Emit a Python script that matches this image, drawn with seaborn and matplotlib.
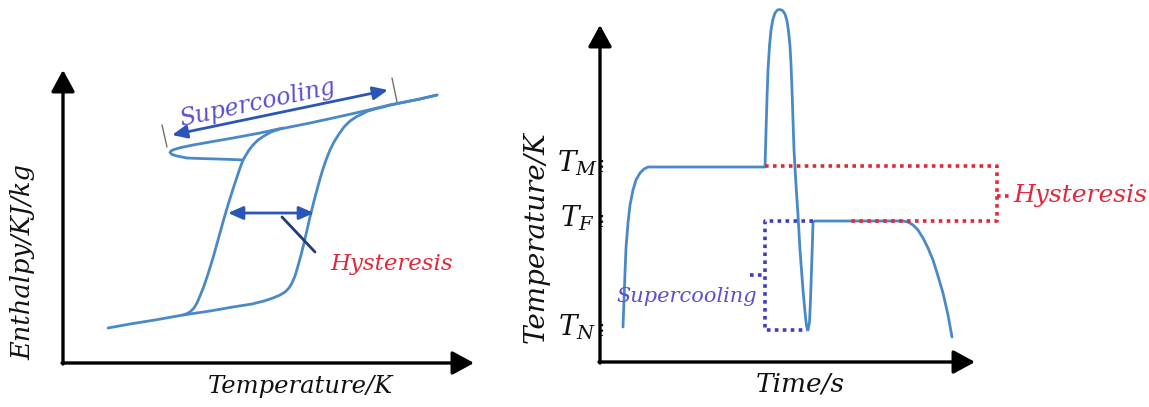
import numpy as np
import pandas as pd
import matplotlib
matplotlib.use("Agg")
import matplotlib.pyplot as plt
import seaborn as sns

# ---------------- data (schematic, pixel units) -------------
# Left panel: enthalpy-temperature hysteresis loop
heat_T = [108, 130, 155, 183, 210, 233, 252, 264, 273, 280, 285, 289, 292, 295, 298,
          301, 304, 307, 310, 314, 318, 322, 326, 330, 334, 339, 344, 350, 356, 362,
          368, 375, 383, 390, 405, 420, 437]
heat_H = [328, 324, 320, 315, 311, 307, 304, 301, 298, 295, 292, 288, 283, 276, 266,
          255, 243, 230, 217, 201, 186, 172, 160, 150, 142, 134, 127, 121, 117, 114,
          111, 109, 107, 105, 102, 99, 95]

cool_T = [437, 420, 390, 360, 333, 310, 290, 280, 271, 264, 258, 253, 249, 246, 243,
          240, 237, 233, 228, 223, 218, 213, 208, 204, 200, 197, 194, 190, 186, 183]
cool_H = [95, 99, 105, 112, 118, 123, 127, 129, 132, 136, 140, 145, 150, 155, 160,
          168, 177, 189, 205, 222, 240, 258, 274, 286, 296, 303, 308, 312, 314, 315]

loop_T = [283, 260, 233, 210, 193, 181, 174, 171, 170, 172, 177, 187, 200, 217, 232, 243]
loop_H = [128, 133, 138, 142, 145, 147.5, 149.5, 151, 152.5, 154.5, 156, 158, 158.5, 159, 159.5, 160]

# Right panel: temperature-time curve
time_s = [623, 624, 625, 626, 628, 630, 633, 636, 640, 644, 648, 700, 765,
          766, 767, 768, 769.5, 771, 773, 775, 777.5, 780, 782.5, 785, 787, 788.5,
          790, 791, 792, 793, 794, 796, 798, 800, 803, 805, 806.5, 808, 809.5, 810.5,
          811.5, 812.5, 813, 815, 860, 903, 908, 913, 918, 923, 928, 933, 938, 943,
          948, 952]
temp_K = [327, 300, 273, 248, 223, 205, 190, 180, 173, 169, 167, 167, 167,
          132, 98, 70, 46, 30, 19, 13, 10, 9.5, 10.5, 14, 21, 31,
          46, 64, 90, 120, 150, 185, 215, 250, 290, 312, 326, 330, 322, 300,
          270, 240, 222, 221, 221, 221, 222, 225, 230, 238, 248, 260, 276, 293,
          315, 337]

tick_labels = [r"$T_M$", r"$T_F$", r"$T_N$"]
tick_levels = [166, 221, 330]

# ---------------- style --------------------------------------------------------------
sns.set_theme(style="white")
plt.rcParams["font.family"] = ["DejaVu Serif"]
plt.rcParams["mathtext.fontset"] = "dejavuserif"

CURVE = "#4a89c8"
ARROW = "#2a56b8"
RED = "#e0283a"
PURPLE = "#5a4fcf"
DOT_PURPLE = "#3c3cc4"

fig = plt.figure(figsize=(11.49, 4.07), dpi=100)
axL = fig.add_axes([0, 0, 480 / 1149, 1])
axR = fig.add_axes([480 / 1149, 0, 669 / 1149, 1])
axL.set_xlim(0, 480); axL.set_ylim(407, 0)
axR.set_xlim(480, 1149); axR.set_ylim(407, 0)
for ax in (axL, axR):
    ax.set_axis_off()

axis_arrow = dict(arrowstyle="-|>,head_length=0.55,head_width=0.3", lw=2.4,
                  color="black", mutation_scale=24, shrinkA=0, shrinkB=0)

# ---------------- left panel -----------------------------------------------------------
axL.annotate("", xy=(63, 70), xytext=(63, 364), arrowprops=axis_arrow)
axL.annotate("", xy=(474, 363), xytext=(62, 363), arrowprops=axis_arrow)

for xs, ys in ((heat_T, heat_H), (cool_T, cool_H), (loop_T, loop_H)):
    sns.lineplot(x=xs, y=ys, sort=False, estimator=None, ax=axL,
                 color=CURVE, lw=2.0)

dbl = dict(arrowstyle="<|-|>,head_length=0.5,head_width=0.22", lw=2.0,
           color=ARROW, mutation_scale=18, shrinkA=0, shrinkB=0)
axL.annotate("", xy=(388, 90), xytext=(172, 135), arrowprops=dbl)
axL.plot([162, 167], [125, 147], color="#707070", lw=1.0)
axL.plot([392, 397], [78, 102], color="#707070", lw=1.0)
axL.text(258, 103, "Supercooling", rotation=12, style="italic", color=PURPLE,
         fontsize=17, ha="center", va="center", rotation_mode="anchor")

axL.annotate("", xy=(314, 213), xytext=(228, 213), arrowprops=dbl)
axL.plot([282, 315], [217, 252], color="#1f3b78", lw=2.0)
axL.text(392, 264, "Hysteresis", style="italic", color=RED, fontsize=16.5,
         ha="center", va="center")

axL.text(23, 262, "Enthalpy/KJ/kg", rotation=90, style="italic", color="#111111",
         fontsize=18.5, ha="center", va="center")
axL.text(300, 387, "Temperature/K", style="italic", color="#111111",
         fontsize=17.5, ha="center", va="center")

# ---------------- right panel ----------------------------------------------------------
axR.annotate("", xy=(600, 25), xytext=(600, 363), arrowprops=axis_arrow)
axR.annotate("", xy=(975, 362), xytext=(599, 362), arrowprops=axis_arrow)

sns.lineplot(x=time_s, y=temp_K, sort=False, estimator=None, ax=axR,
             color=CURVE, lw=2.0)

for lab, lev in zip(tick_labels, tick_levels):
    axR.text(577, lev - 3, lab, fontsize=20, style="italic", color="#111111",
             ha="center", va="center")
    axR.plot([602, 602], [lev - 6, lev + 6], ls=(0, (1, 1.5)), color="#111111", lw=1.6)

t_start = time_s[12]      # end of melting plateau
t_box = 997
t_freeze = 847
axR.plot([t_start, t_box, t_box, t_freeze],
         [tick_levels[0], tick_levels[0], tick_levels[1], tick_levels[1]],
         ls=(0, (1, 1.2)), color=RED, lw=2.6)
mid = (tick_levels[0] + tick_levels[1]) / 2 + 2
axR.plot([t_box, 1011], [mid, mid], ls=(0, (1, 1.2)), color=RED, lw=2.6)
axR.text(1013, mid, "Hysteresis", style="italic", color=RED, fontsize=18,
         ha="left", va="center")

axR.plot([813, t_start, t_start, 807],
         [tick_levels[1], tick_levels[1], tick_levels[2], tick_levels[2]],
         ls=(0, (1, 1.2)), color=DOT_PURPLE, lw=2.6)
axR.plot([750, t_start], [275, 275], ls=(0, (1, 1.2)), color=DOT_PURPLE, lw=2.6)
axR.text(757, 297, "Supercooling", style="italic", color=PURPLE, fontsize=15,
         ha="right", va="center")

axR.text(536, 237, "Temperature/K", rotation=90, style="italic", color="#111111",
         fontsize=20, ha="center", va="center")
axR.text(800, 384, "Time/s", style="italic", color="#111111",
         fontsize=19, ha="center", va="center")

fig.savefig("out.png", dpi=100)
